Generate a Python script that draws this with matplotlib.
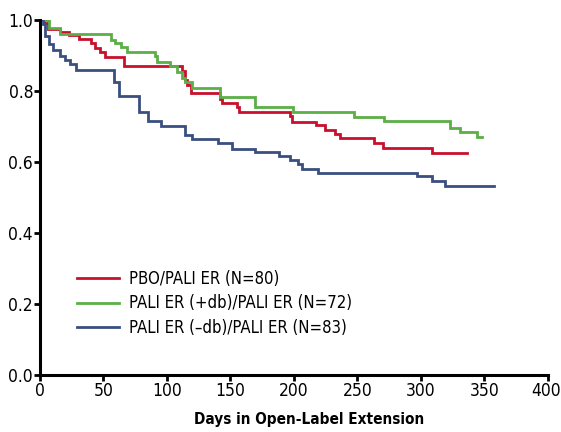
import matplotlib
matplotlib.use("Agg")
import matplotlib.pyplot as plt
import matplotlib.transforms as mtransforms
from matplotlib import font_manager
import numpy as np

# Kaplan-Meier step data (day of drop, value after drop)
pbo_days = [0, 3, 6.5, 15.5, 22.6, 30.5, 40.3, 43.5, 47, 51, 66, 111.7, 113.8, 115.7,
            119, 141.4, 143.3, 155, 156.4, 197, 198.5, 217.5, 224.8, 232.6, 236,
            263, 270, 309]
pbo_surv = [1.0, 0.99, 0.975, 0.965, 0.956, 0.946, 0.934, 0.920, 0.909, 0.894, 0.869,
            0.855, 0.831, 0.817, 0.793, 0.777, 0.765, 0.753, 0.740, 0.728, 0.712,
            0.704, 0.690, 0.679, 0.666, 0.653, 0.640, 0.624]
pbo_end = 336.5

pdb_days = [0, 7, 15.8, 56, 59.4, 63.6, 68.4, 90.5, 92.5, 102, 107.8, 111.7, 113.8,
            119.6, 142, 169.6, 199.3, 247.6, 270.5, 322.6, 330.7, 344.4]
pdb_surv = [1.0, 0.977, 0.960, 0.944, 0.934, 0.923, 0.908, 0.897, 0.880, 0.870, 0.852,
            0.836, 0.824, 0.808, 0.782, 0.753, 0.739, 0.726, 0.714, 0.695, 0.684, 0.670]
pdb_end = 348.3

mdb_days = [0, 2, 3.9, 7.1, 10.5, 15.8, 19.7, 23.7, 28, 58, 62.6, 78.3, 85.4, 95, 114,
            119.5, 140, 151, 169.6, 188, 197, 203, 206.5, 218.7, 296.5, 309, 318.6]
mdb_surv = [1.0, 0.988, 0.953, 0.932, 0.915, 0.897, 0.887, 0.876, 0.859, 0.826, 0.786,
            0.739, 0.714, 0.702, 0.676, 0.665, 0.653, 0.637, 0.629, 0.615, 0.604, 0.593,
            0.580, 0.568, 0.559, 0.546, 0.532]
mdb_end = 357.5

labels = ["PBO/PALI ER (N=80)", "PALI ER (+db)/PALI ER (N=72)", "PALI ER (\u2013db)/PALI ER (N=83)"]
colors = ["#C8102E", "#5BAF46", "#3A4F80"]

x_ticks = [0, 50, 100, 150, 200, 250, 300, 350, 400]
y_ticks = [0.0, 0.2, 0.4, 0.6, 0.8, 1.0]

# use a condensed face if the system has one
condensed = [f for f in font_manager.fontManager.ttflist
             if "Condensed" in f.fname or "Narrow" in f.name]
if condensed:
    fam = condensed[0].name
    plt.rcParams["font.family"] = [fam, "DejaVu Sans"]
    plt.rcParams["font.stretch"] = "condensed"
    scale = 1.0
else:
    plt.rcParams["font.family"] = ["DejaVu Sans"]
    scale = 0.85

fig = plt.figure(figsize=(5.61, 4.32), dpi=100)
ax = fig.add_axes([0.0713, 0.1319, 0.9055, 0.8225])

series = [(pbo_days, pbo_surv, pbo_end), (pdb_days, pdb_surv, pdb_end), (mdb_days, mdb_surv, mdb_end)]
for (d, s, end), lab, col in zip(series, labels, colors):
    xs = np.append(d, end)
    ys = np.append(s, s[-1])
    ax.step(xs, ys, where="post", color=col, lw=2.0, label=lab, solid_joinstyle="miter")

ax.set_xlim(0, 400)
ax.set_ylim(0, 1.0)
ax.set_xticks(x_ticks)
ax.set_yticks(y_ticks)
ax.set_yticklabels([f"{v:.1f}" for v in y_ticks])
ax.tick_params(direction="out", length=4, width=2, labelsize=12.5 * scale, pad=1)

# keep the last x tick label inside the canvas
last = ax.get_xticklabels()[-1]
last.set_transform(last.get_transform() + mtransforms.ScaledTranslation(-1.3 / 72, 0, fig.dpi_scale_trans))

for side in ["top", "right"]:
    ax.spines[side].set_visible(False)
for side in ["left", "bottom"]:
    ax.spines[side].set_linewidth(2.2)

ax.set_xlabel("Days in Open-Label Extension", fontsize=11 * scale, fontweight="bold",
              labelpad=9, x=0.53)

ax.legend(loc="upper left", bbox_to_anchor=(0.06, 0.315), frameon=False, fontsize=12 * scale,
          handlelength=2.5, handletextpad=0.6, labelspacing=0.4, borderaxespad=0)

fig.savefig("out.png", dpi=100)
